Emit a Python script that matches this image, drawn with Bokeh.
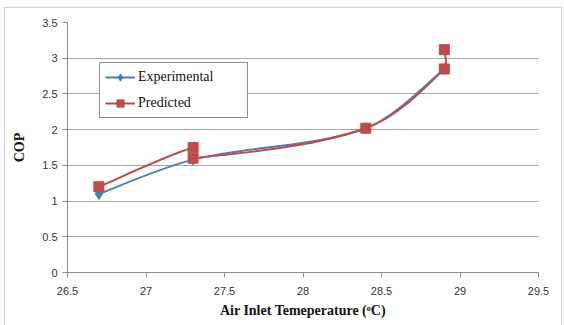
from bokeh.plotting import figure
from bokeh.models import Legend, LegendItem, FixedTicker, InlineStyleSheet
from bokeh.embed import file_html
from bokeh.resources import INLINE

# ---- data ----
x_exp = [26.7, 27.3, 28.4, 28.9]
y_exp = [1.10, 1.58, 2.02, 2.85]
x_pred = [26.7, 27.3, 27.3, 28.4, 28.9, 28.9]
y_pred = [1.20, 1.75, 1.60, 2.02, 2.85, 3.12]
x_ticks = [26.5, 27, 27.5, 28, 28.5, 29, 29.5]
y_ticks = [0, 0.5, 1, 1.5, 2, 2.5, 3, 3.5]

BLUE = "#4a7ebb"
RED = "#be4b48"

# approximate pixels per data unit (used only to make the smoothing look like a spreadsheet's)
SX, SY = 157.0, 71.4
TENSION = 1.0 / 3.0


def smooth_segments(xs, ys):
    """Spreadsheet-like smoothed line: tangent-based cubic Bezier segments whose
    control arms are scaled by the lengths of the neighbouring segments."""
    n = len(xs)

    def dist(i, j):
        return (((xs[j] - xs[i]) * SX) ** 2 + ((ys[j] - ys[i]) * SY) ** 2) ** 0.5

    out = dict(x0=[], y0=[], x1=[], y1=[], cx0=[], cy0=[], cx1=[], cy1=[])
    # control arms at each point
    after, before = [], []
    for i in range(n):
        ip = max(i - 1, 0)
        inn = min(i + 1, n - 1)
        tx, ty = xs[inn] - xs[ip], ys[inn] - ys[ip]
        dp = dist(ip, i)
        dn = dist(i, inn)
        tot = dp + dn if dp + dn > 0 else 1.0
        if i == 0 or i == n - 1:
            fa = fb = TENSION / 2.0
        else:
            fa = TENSION * dn / tot
            fb = TENSION * dp / tot
        after.append((xs[i] + tx * fa, ys[i] + ty * fa))
        before.append((xs[i] - tx * fb, ys[i] - ty * fb))
    for i in range(n - 1):
        out["x0"].append(xs[i]); out["y0"].append(ys[i])
        out["x1"].append(xs[i + 1]); out["y1"].append(ys[i + 1])
        out["cx0"].append(after[i][0]); out["cy0"].append(after[i][1])
        out["cx1"].append(before[i + 1][0]); out["cy1"].append(before[i + 1][1])
    return out


p = figure(width=564, height=325, output_backend="svg", toolbar_location=None,
           x_range=(26.5, 29.5), y_range=(0, 3.5),
           min_border_left=67, min_border_right=26, min_border_top=22, min_border_bottom=53)

p.outline_line_color = None
p.background_fill_color = "white"
p.border_fill_color = "white"

# grid
p.xgrid.grid_line_color = None
p.ygrid.grid_line_color = "#a6a6a6"
p.ygrid.grid_line_width = 1

# axes
p.xaxis.ticker = FixedTicker(ticks=x_ticks)
p.yaxis.ticker = FixedTicker(ticks=y_ticks)
p.xaxis.major_label_overrides = {t: ("%g" % t) for t in x_ticks}
p.yaxis.major_label_overrides = {t: ("%g" % t) for t in y_ticks}
for ax in (p.xaxis, p.yaxis):
    ax.axis_line_color = "#8c8c8c"
    ax.major_tick_line_color = "#8c8c8c"
    ax.major_tick_out = 5
    ax.major_tick_in = 0
    ax.minor_tick_line_color = None
    ax.major_label_text_font = "Liberation Sans"
    ax.major_label_text_font_size = "11px"
    ax.major_label_text_color = "#333333"
    ax.axis_label_text_font = "Liberation Serif"
    ax.axis_label_text_font_style = "bold"
    ax.axis_label_text_font_size = "14px"
    ax.axis_label_text_color = "#111111"

p.xaxis.axis_label = "Air Inlet Temeperature (\u1d52C)"
p.yaxis.axis_label = "COP"
p.xaxis.major_label_standoff = 9
p.xaxis.axis_label_standoff = 5
p.yaxis.major_label_standoff = 5
p.yaxis.axis_label_standoff = 12

# series
exp_line = p.bezier(line_color=BLUE, line_width=2, source=smooth_segments(x_exp, y_exp),
                    x0="x0", y0="y0", x1="x1", y1="y1", cx0="cx0", cy0="cy0", cx1="cx1", cy1="cy1")
exp_pts = p.scatter(x_exp, y_exp, marker="diamond", size=11, fill_color=BLUE, line_color=BLUE)

pred_line = p.bezier(line_color=RED, line_width=2, source=smooth_segments(x_pred, y_pred),
                     x0="x0", y0="y0", x1="x1", y1="y1", cx0="cx0", cy0="cy0", cx1="cx1", cy1="cy1")
pred_pts = p.scatter(x_pred, y_pred, marker="square", size=10, fill_color=RED, line_color=RED)

legend = Legend(items=[LegendItem(label="Experimental", renderers=[exp_line, exp_pts]),
                       LegendItem(label="Predicted", renderers=[pred_line, pred_pts])],
                location=(32, 154))
legend.border_line_color = "#222222"
legend.border_line_width = 1
legend.background_fill_color = "white"
legend.background_fill_alpha = 1
legend.label_text_font = "Liberation Serif"
legend.label_text_font_size = "14px"
legend.label_text_color = "#111111"
legend.glyph_width = 30
legend.glyph_height = 18
legend.label_standoff = 3
legend.label_height = 18
legend.label_width = 104
legend.padding = 5
legend.spacing = 8
legend.margin = 0
p.add_layout(legend, "center")

# faint outer chart border, like the spreadsheet chart area
p.stylesheets = [InlineStyleSheet(css=":host::after{content:'';position:absolute;left:4px;top:7px;"
                                      "right:2px;bottom:-2px;border:1px solid #d0d0d0;pointer-events:none;}")]

open("out.html", "w").write(file_html(p, INLINE))
